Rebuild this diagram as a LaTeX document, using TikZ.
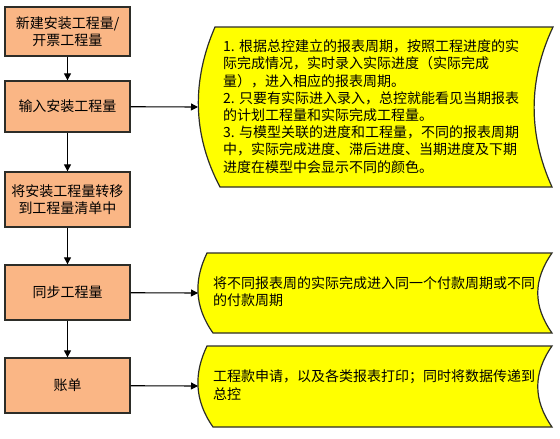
\documentclass[tikz,border=0pt]{standalone}
\usepackage{fontspec}
\setmainfont{Noto Sans CJK SC}
\usetikzlibrary{arrows.meta, positioning}
\definecolor{cPeach}{RGB}{250,182,133}
\definecolor{cYellow}{RGB}{255,255,0}
\definecolor{cEdge}{RGB}{45,45,40}
\tikzset{
	stage/.style   ={rectangle, draw=cEdge, line width=1.3pt, fill=cPeach, minimum width=125pt, align=center, inner sep=2pt},
	note/.style    ={draw=cEdge, line width=1.2pt, fill=cYellow},
	notetext/.style={anchor=west, align=left, inner sep=0pt},
	flowarrow/.style={-{Triangle[length=7pt, width=7pt]}, line width=1.1pt, draw=black},
}

\begin{document}
\begin{tikzpicture}[x=1pt, y=-1pt, font=\fontsize{14}{17.2}\selectfont]
	\useasboundingbox (0,0) rectangle (560,439);
	% stages on the left
	\node[stage, minimum height=49pt] (add)   at (67.5,31.5)  {新建安装工程量/\\开票工程量};
	\node[stage, minimum height=51pt] (input) at (67.5,106.5) {输入安装工程量};
	\node[stage, minimum height=55pt] (move)  at (67.5,199.5) {将安装工程量转移\\到工程量清单中};
	\node[stage, minimum height=55pt] (sync)  at (67.5,292.5) {同步工程量};
	\node[stage, minimum height=55pt] (bill)  at (67.5,385.5) {账单};
	% notes on the right
	\draw[note] (215,27) -- (553,27) .. controls (528,80) and (528,134) .. (552,187)
		-- (220,187) .. controls (192,134) and (192,80) .. (215,27) -- cycle;
	\coordinate (inputnote) at (198,107);
	\draw[note] (207,253) -- (552,253) .. controls (533,280) and (533,306) .. (552,333)
		-- (213,333) .. controls (194,306) and (194,280) .. (207,253) -- cycle;
	\coordinate (syncnote) at (198,293);
	\draw[note] (207,346) -- (552,346) .. controls (533,373) and (533,400) .. (552,427)
		-- (213,427) .. controls (194,400) and (194,373) .. (207,346) -- cycle;
	\coordinate (billnote) at (198,386);
	\node[notetext] (inputtext) at (223,106.5) {1. 根据总控建立的报表周期，按照工程进度的实\\
		际完成情况，实时录入实际进度（实际完成\\
		量），进入相应的报表周期。\\
		2. 只要有实际进入录入，总控就能看见当期报表\\
		的计划工程量和实际完成工程量。\\
		3. 与模型关联的进度和工程量，不同的报表周期\\
		中，实际完成进度、滞后进度、当期进度及下期\\
		进度在模型中会显示不同的颜色。};
	\node[notetext] (synctext) at (213,291.5) {将不同报表周的实际完成进入同一个付款周期或不同\\的付款周期};
	\node[notetext] (billtext) at (213,385) {工程款申请，以及各类报表打印；同时将数据传递到\\总控};
	% arrows
	\draw[flowarrow] (add) -- (input);
	\draw[flowarrow] (input) -- (move);
	\draw[flowarrow] (move) -- (sync);
	\draw[flowarrow] (sync) -- (bill);
	\draw[flowarrow] (input) -- (inputnote);
	\draw[flowarrow] (sync) -- (syncnote);
	\draw[flowarrow] (bill) -- (billnote);
\end{tikzpicture}
\end{document}
